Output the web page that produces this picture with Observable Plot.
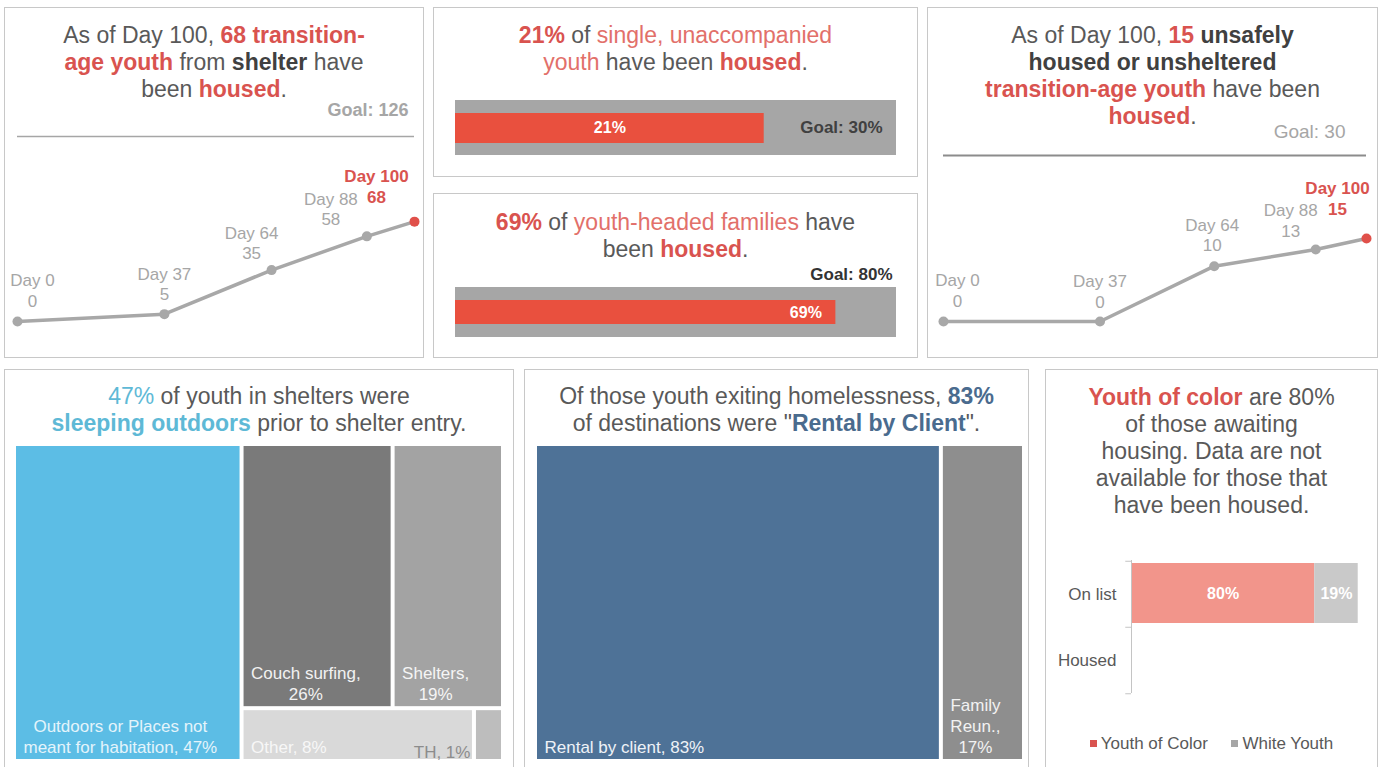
<!DOCTYPE html>
<html><head><meta charset="utf-8">
<script src="https://cdn.jsdelivr.net/npm/d3@7"></script>
<script src="https://cdn.jsdelivr.net/npm/@observablehq/plot@0.6"></script>
<style>
html,body{margin:0;padding:0;background:#fff;}
#dash{position:relative;width:1380px;height:767px;overflow:hidden;font-family:"Liberation Sans",Arial,sans-serif;color:#595959;}
.panel{position:absolute;box-sizing:border-box;border:1px solid #c8c8c8;background:#fff;}
.title{position:absolute;text-align:center;font-size:23px;line-height:27px;color:#595959;white-space:nowrap;}
.r{color:#d9534f;font-weight:bold}
.rl{color:#e2706a}
.d{color:#404040;font-weight:bold}
.bl{color:#5eb9d6}
.blb{color:#5eb9d6;font-weight:bold}
.s{color:#4a6b8e;font-weight:bold}
.chart{position:absolute;}
.chart svg{display:block;overflow:visible;background:transparent}
.legend{position:absolute;text-align:center;font-size:17px;color:#595959;white-space:nowrap}
.sw{display:inline-block;width:7px;height:7px;margin-right:4px;vertical-align:middle;position:relative;top:-1px}
</style>
</head><body>
<div id="dash">
  <div class="panel" style="left:4px;top:7px;width:420px;height:351px"></div>
  <div class="panel" style="left:433px;top:7px;width:485px;height:170px"></div>
  <div class="panel" style="left:433px;top:193px;width:485px;height:165px"></div>
  <div class="panel" style="left:927px;top:7px;width:451px;height:351px"></div>
  <div class="panel" style="left:4px;top:369px;width:510px;height:400px"></div>
  <div class="panel" style="left:524px;top:369px;width:505px;height:400px"></div>
  <div class="panel" style="left:1045px;top:369px;width:333px;height:400px"></div>

  <div class="title" style="left:4px;width:420px;top:21.5px">As of Day 100, <span class="r">68 transition-</span><br><span class="r">age youth</span> from <span class="d">shelter</span> have<br>been <span class="r">housed</span>.</div>
  <div class="title" style="left:433px;width:485px;top:21.5px"><span class="r">21%</span> of <span class="rl">single, unaccompanied</span><br><span class="rl">youth</span> have been <span class="r">housed</span>.</div>
  <div class="title" style="left:433px;width:485px;top:208.5px"><span class="r">69%</span> of <span class="rl">youth-headed families</span> have<br>been <span class="r">housed</span>.</div>
  <div class="title" style="left:927px;width:451px;top:21.5px">As of Day 100, <span class="r">15</span> <span class="d">unsafely</span><br><span class="d">housed or unsheltered</span><br><span class="r">transition-age youth</span> have been<br><span class="r">housed</span>.</div>
  <div class="title" style="left:4px;width:510px;top:382.5px"><span class="bl">47%</span> of youth in shelters were<br><span class="blb">sleeping outdoors</span> prior to shelter entry.</div>
  <div class="title" style="left:524px;width:505px;top:382.5px">Of those youth exiting homelessness, <span class="s">83%</span><br>of destinations were "<span class="s">Rental by Client</span>".</div>
  <div class="title" style="left:1045px;width:333px;top:383.5px"><span class="r">Youth of color</span> are 80%<br>of those awaiting<br>housing. Data are not<br>available for those that<br>have been housed.</div>

  <div class="legend" style="left:1045px;width:333px;top:734px"><span class="sw" style="background:#d9534f"></span>Youth of Color&nbsp;&nbsp;&nbsp;&nbsp;&nbsp;<span class="sw" style="background:#a6a6a6"></span>White Youth</div>
</div>
<script>
// ---------------- data ----------------
const shelterDays = [0, 37, 64, 88, 100];
const shelterHoused = [0, 5, 35, 58, 68];
const shelterGoal = 126;

const unsafeDays = [0, 37, 64, 88, 100];
const unsafeHoused = [0, 0, 10, 13, 15];
const unsafeGoal = 30;

const singleHousedPct = 21;
const singleGoalPct = 30;
const familyHousedPct = 69;
const familyGoalPct = 80;

const priorNames = ["Outdoors or Places not\nmeant for habitation", "Couch surfing", "Shelters", "Other", "TH"];
const priorPct = [47, 26, 19, 8, 1];

const exitNames = ["Rental by client", "Family\nReun."];
const exitPct = [83, 17];

const raceStatus = ["On list", "Housed"];
const raceGroups = ["Youth of Color", "White Youth"];
const onListPct = [80, 19];

// ---------------- style ----------------
const FONT = "'Liberation Sans', Arial, sans-serif";
const GRAY_LINE = "#a8a8a8";
const RED = "#d9534f";
const dash = document.getElementById("dash");
function place(el, left, top) {
  const d = document.createElement("div");
  d.className = "chart";
  d.style.left = left + "px";
  d.style.top = top + "px";
  d.appendChild(el);
  dash.appendChild(d);
}
const baseStyle = {fontFamily: FONT, fontSize: "17px", overflow: "visible", background: "transparent", color: "#595959"};

function lineChart(o) {
  const rows = o.days.map((d, i) => ({day: d, n: o.vals[i]}));
  const last = rows.length - 1;
  return Plot.plot({
    width: o.width, height: o.height,
    marginLeft: o.ml, marginRight: o.mr, marginTop: o.mt, marginBottom: o.mb,
    x: {domain: [0, 100], axis: null},
    y: {domain: [0, o.goal], axis: null},
    style: baseStyle,
    marks: [
      Plot.ruleY([o.goal], {stroke: o.ruleColor, strokeWidth: o.ruleWidth}),
      Plot.text([o.goal], {y: d => d, frameAnchor: "right", textAnchor: "end", dx: o.goalDx, dy: o.goalDy,
        text: d => `Goal: ${d}`, fill: "#a6a6a6", fontWeight: o.goalWeight, fontSize: o.goalSize}),
      Plot.line(rows, {x: "day", y: "n", stroke: GRAY_LINE, strokeWidth: 3.5}),
      Plot.dot(rows.slice(0, last), {x: "day", y: "n", r: 5, fill: GRAY_LINE}),
      Plot.dot(rows.slice(last), {x: "day", y: "n", r: 5, fill: "#e0504a"}),
      ...rows.map((r, i) => Plot.text([r], {
        x: "day", y: "n", text: d => `Day ${d.day}\n${d.n}`,
        dx: o.dxs[i], dy: o.dys[i], lineAnchor: "bottom", lineHeight: 1.2, fontSize: 17,
        fill: i === last ? RED : "#a6a6a6", fontWeight: i === last ? "bold" : "normal"
      }))
    ]
  });
}

// Panel 1
place(lineChart({days: shelterDays, vals: shelterHoused, goal: shelterGoal,
  width: 428, height: 240, ml: 17, mr: 14, mt: 41, mb: 14,
  dxs: [15, 0, -20, -36, -38], dys: [-15, -14, -11, -11, -19],
  goalDx: -6, goalDy: -26, goalWeight: "bold", goalSize: 18, ruleColor: "#a6a6a6", ruleWidth: 1.5}), 0, 95);

// Panel 3
place(lineChart({days: unsafeDays, vals: unsafeHoused, goal: unsafeGoal,
  width: 458, height: 225, ml: 21, mr: 14, mt: 45, mb: 14,
  dxs: [14, 0, -2, -25, -29], dys: [-15, -14, -15, -13, -24],
  goalDx: -21, goalDy: -24, goalWeight: "normal", goalSize: 19, ruleColor: "#8c8c8c", ruleWidth: 2}), 922, 110);

// Panel 2a
place(Plot.plot({
  width: 495, height: 75, marginLeft: 27, marginRight: 27, marginTop: 10, marginBottom: 10,
  x: {domain: [0, singleGoalPct], axis: null},
  y: {domain: ["single"], axis: null, padding: 0},
  style: baseStyle,
  marks: [
    Plot.barX([singleGoalPct], {x: d => d, y: () => "single", fill: "#a6a6a6"}),
    Plot.barX([singleHousedPct], {x: d => d, y: () => "single", fill: "#e9503e", insetTop: 13, insetBottom: 12}),
    Plot.text([singleHousedPct], {x: d => d / 2, y: () => "single", text: d => `${d}%`, fill: "#fff", fontWeight: "bold", fontSize: 16}),
    Plot.text([singleGoalPct], {x: d => d, y: () => "single", text: d => `Goal: ${d}%`, textAnchor: "end", dx: -14, fill: "#404040", fontWeight: "bold", fontSize: 17})
  ]
}), 428, 90);

// Panel 2b
place(Plot.plot({
  width: 495, height: 92, marginLeft: 27, marginRight: 27, marginTop: 32, marginBottom: 10,
  x: {domain: [0, familyGoalPct], axis: null},
  y: {domain: ["family"], axis: null, padding: 0},
  style: baseStyle,
  marks: [
    Plot.barX([familyGoalPct], {x: d => d, y: () => "family", fill: "#a6a6a6"}),
    Plot.barX([familyHousedPct], {x: d => d, y: () => "family", fill: "#e9503e", insetTop: 13, insetBottom: 13}),
    Plot.text([familyHousedPct], {x: d => d, y: () => "family", text: d => `${d}%`, textAnchor: "end", dx: -14, fill: "#fff", fontWeight: "bold", fontSize: 16}),
    Plot.text([familyGoalPct], {x: d => d, y: () => "family", text: d => `Goal: ${d}%`, textAnchor: "end", dx: -4, dy: -38, fill: "#333", fontWeight: "bold", fontSize: 17})
  ]
}), 428, 255);

// Treemaps
const ctx = document.createElement("canvas").getContext("2d");
ctx.font = "17px " + FONT;
const halfBlock = s => Math.max(...s.split("\n").map(l => ctx.measureText(l).width)) / 2;

function treemapPlot(tree, names, pcts, breaks, fills, labelFills, w, h) {
  const root = d3.hierarchy(tree).sum(d => d.value || 0);
  d3.treemap().size([w, h]).tile(d3.treemapSliceDice).paddingInner(4)(root);
  const items = root.leaves().map(l => {
    const i = l.data.i;
    return {x0: l.x0, x1: l.x1, y0: l.y0, y1: l.y1, fill: fills[i], labelFill: labelFills[i],
      label: `${names[i]},${breaks[i]}${pcts[i]}%`, narrow: (l.x1 - l.x0) < 30};
  });
  return Plot.plot({
    width: w, height: h, margin: 0,
    x: {domain: [0, w], range: [0, w], axis: null},
    y: {domain: [0, h], range: [0, h], axis: null},
    color: {type: "identity"},
    style: baseStyle,
    marks: [
      Plot.rect(items, {x1: "x0", x2: "x1", y1: "y0", y2: "y1", fill: "fill"}),
      Plot.text(items.filter(d => !d.narrow), {x: d => d.x0 + 7 + halfBlock(d.label), y: "y1", text: "label",
        fill: "labelFill", lineAnchor: "bottom", dy: -7, fontSize: 17, lineHeight: 1.22}),
      Plot.text(items.filter(d => d.narrow), {x: d => d.x0 - 6, y: "y1", text: "label",
        fill: "labelFill", textAnchor: "end", lineAnchor: "bottom", dy: -2, fontSize: 17})
    ]
  });
}
const leaf = i => ({i, value: priorPct[i]});
const priorTree = {children: [leaf(0), {children: [{children: [leaf(1), leaf(2)]}, {children: [leaf(3), leaf(4)]}]}]};
place(treemapPlot(priorTree, priorNames, priorPct, [" ", "\n", "\n", " ", " "],
  ["#5cbde5", "#7a7a7a", "#a3a3a3", "#d9d9d9", "#bdbdbd"],
  ["#e4f4fb", "#f2f2f2", "#f5f5f5", "#f7f7f7", "#8c8c8c"], 485, 313), 16, 446);

const exitTree = {children: exitPct.map((v, i) => ({i, value: v}))};
place(treemapPlot(exitTree, exitNames, exitPct, [" ", "\n"],
  ["#4e7297", "#8e8e8e"], ["#eef2f7", "#f2f2f2"], 485, 313), 537, 446);

// Panel 6 stacked bar
const raceRows = raceGroups.map((g, i) => ({status: raceStatus[0], group: g, pct: onListPct[i]}));
const bw = (165 - 15 - 17) / 2;
place(Plot.plot({
  width: 333, height: 165, marginLeft: 86, marginRight: 18, marginTop: 15, marginBottom: 17,
  x: {domain: [0, 100], axis: null},
  y: {domain: raceStatus, padding: 0, label: null, tickSize: 0, tickPadding: 15},
  color: {domain: raceGroups, range: ["#f2958b", "#c9c9c9"]},
  style: baseStyle,
  marks: [
    Plot.barX(raceRows, {x: "pct", y: "status", fill: "group", insetTop: 2, insetBottom: 4}),
    Plot.text(raceRows, Plot.stackX({x: "pct", y: "status", text: d => `${d.pct}%`, fill: "#fff", fontWeight: "bold", fontSize: 16, dy: -1})),
    Plot.ruleX([0], {stroke: "#c4c4c4"}),
    Plot.ruleY(raceStatus, {y: d => d, x1: -2.5, x2: 0, dy: -bw / 2, stroke: "#c4c4c4"}),
    Plot.ruleY([raceStatus[1]], {y: d => d, x1: -2.5, x2: 0, dy: bw / 2, stroke: "#c4c4c4"})
  ]
}), 1045, 545);
</script>
</body></html>
